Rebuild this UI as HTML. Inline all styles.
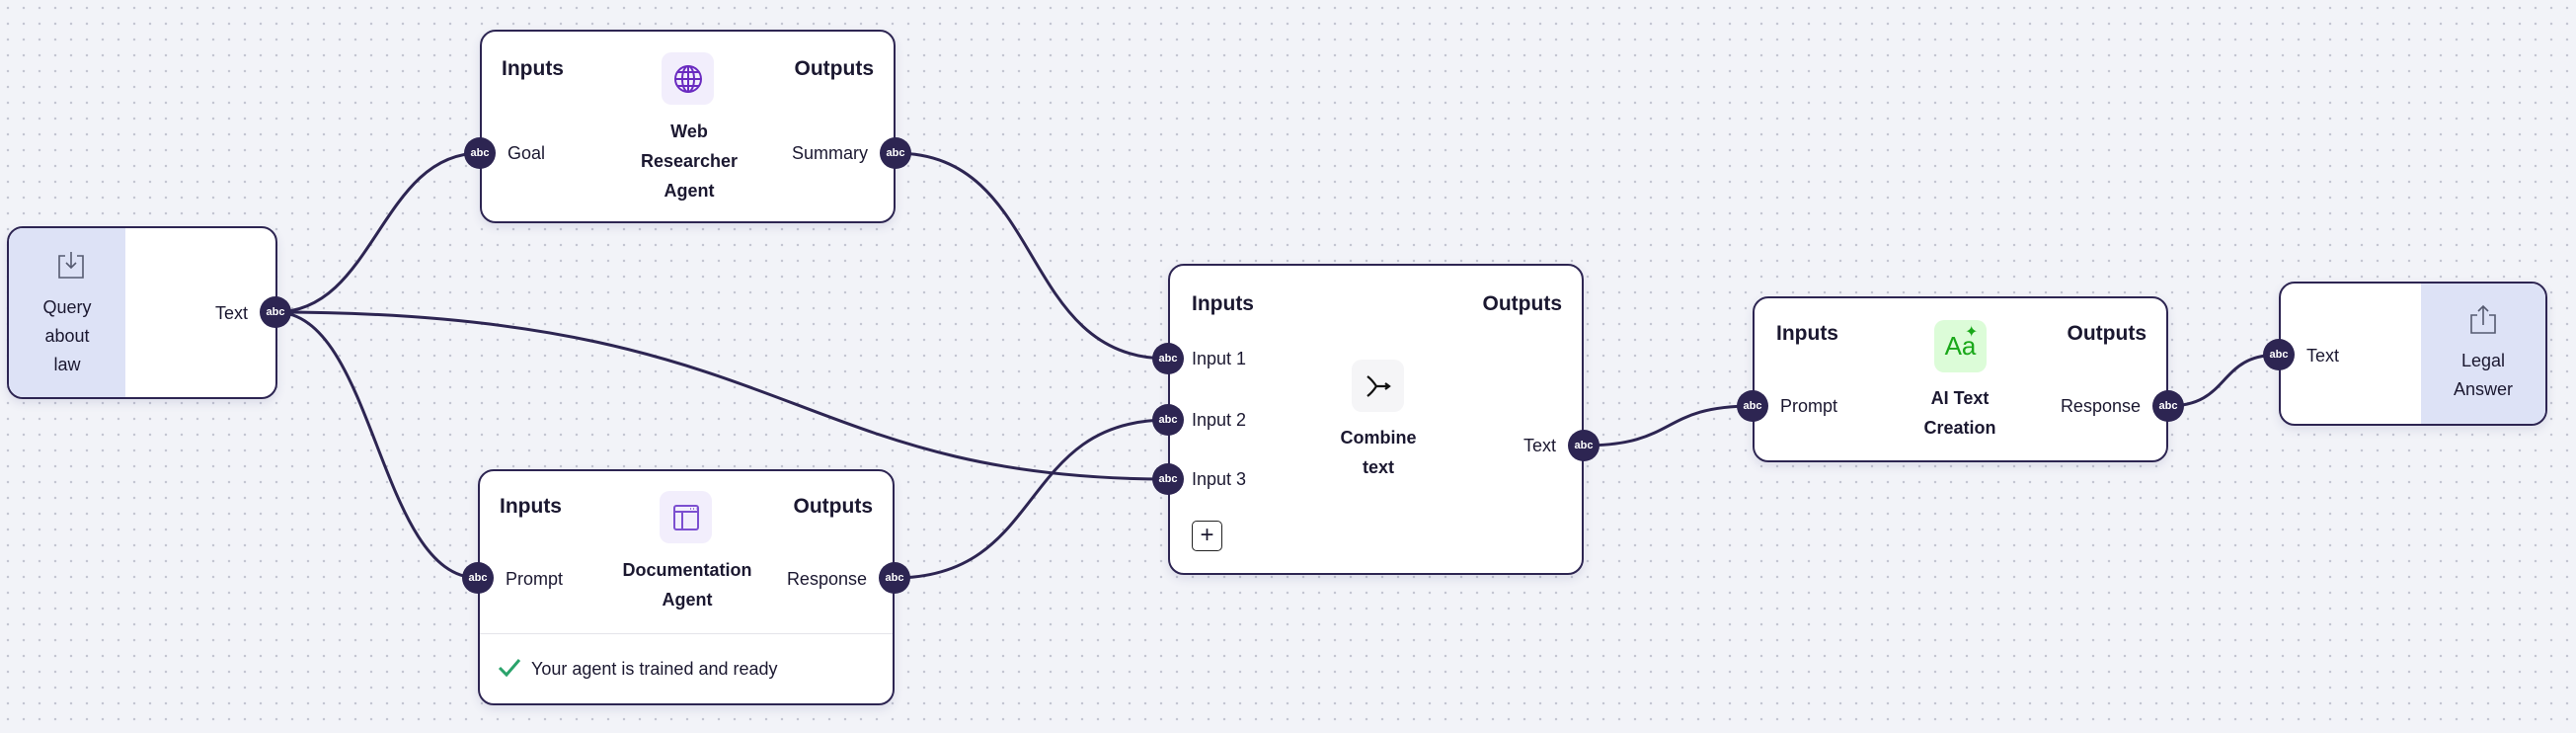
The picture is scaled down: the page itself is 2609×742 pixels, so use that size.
<!DOCTYPE html>
<html><head><meta charset="utf-8"><style>
*{box-sizing:border-box;margin:0;padding:0}
body{width:2609px;height:742px;overflow:hidden;position:relative;background-color:#f2f3f8;background-image:radial-gradient(circle,#c4c6d2 1.1px,transparent 1.4px);background-size:16px 16px;font-family:"Liberation Sans",sans-serif;color:#1b1830}
.node{position:absolute;background:#fff;border:2.5px solid #2d2552;border-radius:16px;box-shadow:0 4px 10px rgba(60,60,120,.12);overflow:hidden}
.t{position:absolute;white-space:nowrap}
.h{font-size:21px;font-weight:bold}
.l{font-size:18px}
.ti{font-size:18px;font-weight:bold;text-align:center;line-height:30px;width:240px}
.port{position:absolute;width:32px;height:32px;border-radius:50%;background:#2d2552;color:#fff;font-size:11px;font-weight:bold;text-align:center;line-height:32px;margin:-16px 0 0 -16px;z-index:5}
.ic{position:absolute;width:53px;height:53px;border-radius:10px;display:flex;align-items:center;justify-content:center}
svg.e{position:absolute;left:0;top:0}
</style></head><body>
<svg class="e" width="2609" height="742"><g fill="none" stroke="#2d2552" stroke-width="3">
<path d="M279 316 C380 316 385 155 486 155"/>
<path d="M279 316 C380 316 383 585 484 585"/>
<path d="M279 316 C800 316 800 485 1183 485"/>
<path d="M907 155 C1060 155 1030 363 1183 363"/>
<path d="M906 585 C1060 585 1030 425 1183 425"/>
<path d="M1604 451 C1700 451 1680 411 1775 411"/>
<path d="M2196 411 C2260 411 2245 359 2308 359"/>
</g></svg>

<!-- Query -->
<div class="node" style="left:7px;top:229px;width:274px;height:175px">
<div style="position:absolute;left:0;top:0;width:118px;height:100%;background:#dde2f6"></div>
<svg style="position:absolute;left:48px;top:22px" width="30" height="32" viewBox="0 0 30 32" fill="none" stroke="#555a70" stroke-width="1.6"><path d="M9 6H3v22h24V6h-6"/><path d="M15 2v16M10 13l5 5 5-5"/></svg>
<div class="t l" style="left:0;width:118px;text-align:center;top:66px;line-height:29px;white-space:normal">Query<br>about<br>law</div>
<div class="t l" style="right:28px;top:76px">Text</div>
</div>
<div class="port" style="left:279px;top:316px">abc</div>

<!-- Web researcher -->
<div class="node" style="left:486px;top:30px;width:421px;height:196px">
<div class="t h" style="left:20px;top:26px">Inputs</div>
<div class="t h" style="right:20px;top:26px">Outputs</div>
<div class="ic" style="left:182px;top:21px;background:#f2eefc"><svg width="32" height="32" viewBox="0 0 32 32" fill="none" stroke="#6a2bc0" stroke-width="2"><circle cx="16" cy="16" r="13"/><ellipse cx="16" cy="16" rx="6" ry="13"/><path d="M3 16h26M5 9h22M5 23h22M16 3v26"/></svg></div>
<div class="t ti" style="left:90px;top:86px">Web<br>Researcher<br>Agent</div>
<div class="t l" style="left:26px;top:113px">Goal</div>
<div class="t l" style="right:26px;top:113px">Summary</div>
</div>
<div class="port" style="left:486px;top:155px">abc</div>
<div class="port" style="left:907px;top:155px">abc</div>

<!-- Documentation -->
<div class="node" style="left:484px;top:475px;width:422px;height:239px">
<div class="t h" style="left:20px;top:24px">Inputs</div>
<div class="t h" style="right:20px;top:24px">Outputs</div>
<div class="ic" style="left:182px;top:20px;background:#f2eefc"><svg width="30" height="30" viewBox="0 0 30 30" fill="none" stroke="#7c4fd0" stroke-width="2"><rect x="3" y="3" width="24" height="24" rx="2"/><path d="M3 9h24M11 9v18"/><path d="M19 6h1M22 6h1M25 6h0.5" stroke-width="1.5"/></svg></div>
<div class="t ti" style="left:90px;top:85px">Documentation<br>Agent</div>
<div class="t l" style="left:26px;top:99px">Prompt</div>
<div class="t l" style="right:26px;top:99px">Response</div>
<div style="position:absolute;left:0;right:0;top:164px;border-top:1.5px solid #e4e4ea"></div>
<svg style="position:absolute;left:18px;top:189px" width="24" height="20" viewBox="0 0 24 20" fill="none" stroke="#2aa36b" stroke-width="3"><path d="M2 10l7 7L22 2"/></svg>
<div class="t l" style="left:52px;top:190px">Your agent is trained and ready</div>
</div>
<div class="port" style="left:484px;top:585px">abc</div>
<div class="port" style="left:906px;top:585px">abc</div>

<!-- Combine -->
<div class="node" style="left:1183px;top:267px;width:421px;height:315px">
<div class="t h" style="left:22px;top:27px">Inputs</div>
<div class="t h" style="right:20px;top:27px">Outputs</div>
<div class="t l" style="left:22px;top:84px">Input 1</div>
<div class="t l" style="left:22px;top:146px">Input 2</div>
<div class="t l" style="left:22px;top:206px">Input 3</div>
<div class="ic" style="left:184px;top:95px;background:#f5f5f7"><svg width="30" height="30" viewBox="0 0 30 30" fill="none" stroke="#111" stroke-width="2.2"><path d="M4 5c4 3 7 7 9 10M4 25c4-3 7-7 9-10M13 15h13M22 12l4 3-4 3"/></svg></div>
<div class="t ti" style="left:91px;top:159px">Combine<br>text</div>
<div class="t l" style="right:26px;top:172px">Text</div>
<div style="position:absolute;left:22px;top:258px;width:31px;height:31px;border:1.5px solid #222;border-radius:5px;font-size:24px;line-height:27px;text-align:center">+</div>
</div>
<div class="port" style="left:1183px;top:363px">abc</div>
<div class="port" style="left:1183px;top:425px">abc</div>
<div class="port" style="left:1183px;top:485px">abc</div>
<div class="port" style="left:1604px;top:451px">abc</div>

<!-- AI Text -->
<div class="node" style="left:1775px;top:300px;width:421px;height:168px">
<div class="t h" style="left:22px;top:24px">Inputs</div>
<div class="t h" style="right:20px;top:24px">Outputs</div>
<div class="ic" style="left:182px;top:22px;background:#dcfcd8;color:#1aa81a;font-size:26px;font-weight:normal">Aa<span style="position:absolute;left:31px;top:2px;font-size:16px">✦</span></div>
<div class="t ti" style="left:88px;top:86px">AI Text<br>Creation</div>
<div class="t l" style="left:26px;top:99px">Prompt</div>
<div class="t l" style="right:26px;top:99px">Response</div>
</div>
<div class="port" style="left:1775px;top:411px">abc</div>
<div class="port" style="left:2196px;top:411px">abc</div>

<!-- Legal -->
<div class="node" style="left:2308px;top:285px;width:272px;height:146px">
<div style="position:absolute;right:0;top:0;width:126px;height:100%;background:#dde2f6"></div>
<svg style="position:absolute;left:190px;top:20px" width="30" height="32" viewBox="0 0 30 32" fill="none" stroke="#555a70" stroke-width="1.6"><path d="M9 12H3v18h24V12h-6"/><path d="M15 22V3M10 8l5-5 5 5"/></svg>
<div class="t l" style="right:0;width:126px;text-align:center;top:64px;line-height:29px">Legal<br>Answer</div>
<div class="t l" style="left:26px;top:63px">Text</div>
</div>
<div class="port" style="left:2308px;top:359px">abc</div>
</body></html>
